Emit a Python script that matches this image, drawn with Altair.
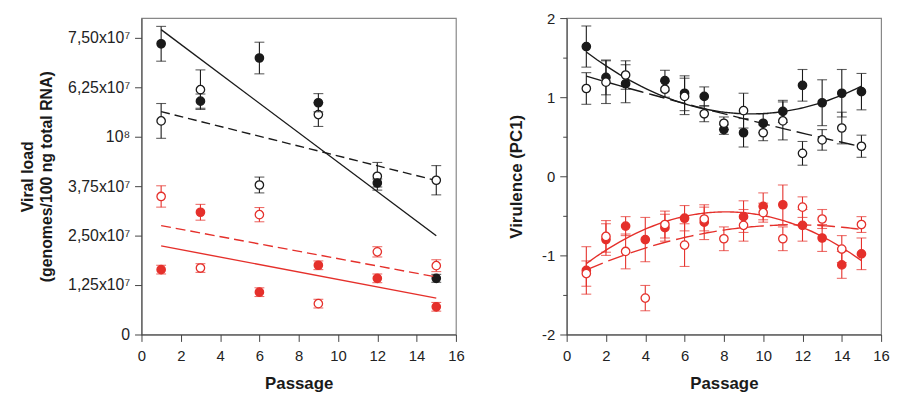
import altair as alt
import pandas as pd

# ---------------- Left panel: viral load (values in units of 10^7) ----------------
vl_passage = [1, 3, 6, 9, 12, 15]
vl_black_filled = [7.35, 5.90, 6.99, 5.86, 3.83, 1.42]
vl_black_filled_err = [0.44, 0.18, 0.40, 0.23, 0.10, 0.10]
vl_black_open = [5.40, 6.19, 3.78, 5.56, 4.00, 3.90]
vl_black_open_err = [0.44, 0.50, 0.20, 0.30, 0.35, 0.37]
vl_red_filled = [1.64, 3.09, 1.07, 1.75, 1.42, 0.70]
vl_red_filled_err = [0.11, 0.20, 0.11, 0.11, 0.11, 0.11]
vl_red_open = [3.49, 1.68, 3.03, 0.78, 2.09, 1.74]
vl_red_open_err = [0.27, 0.11, 0.18, 0.11, 0.13, 0.15]
vl_tick_values = [0, 1.25, 2.5, 3.75, 5.0, 6.25, 7.5]
vl_tick_labels = ["0", "1,25x10⁷", "2,50x10⁷", "3,75x10⁷", "10⁸", "6,25x10⁷", "7,50x10⁷"]

# ---------------- Right panel: virulence (PC1) ----------------
vir_black_filled_p = [1, 2, 3, 5, 6, 7, 8, 9, 10, 11, 12, 13, 14, 15]
vir_black_filled = [1.64, 1.25, 1.17, 1.21, 1.05, 1.01, 0.59, 0.55, 0.67, 0.82, 1.15, 0.93, 1.05, 1.07]
vir_black_filled_err = [0.26, 0.22, 0.24, 0.13, 0.22, 0.12, 0.06, 0.18, 0.12, 0.14, 0.20, 0.29, 0.30, 0.23]
vir_black_open_p = [1, 2, 3, 5, 6, 7, 8, 9, 10, 11, 12, 13, 14, 15]
vir_black_open = [1.11, 1.19, 1.28, 1.10, 1.01, 0.79, 0.67, 0.83, 0.55, 0.70, 0.29, 0.46, 0.61, 0.38]
vir_black_open_err = [0.20, 0.27, 0.18, 0.10, 0.23, 0.10, 0.08, 0.22, 0.10, 0.24, 0.15, 0.13, 0.20, 0.14]
vir_red_filled_p = [1, 2, 3, 4, 5, 6, 7, 9, 10, 11, 12, 13, 14, 15]
vir_red_filled = [-1.19, -0.80, -0.63, -0.80, -0.65, -0.53, -0.58, -0.51, -0.38, -0.36, -0.62, -0.78, -1.12, -0.98]
vir_red_filled_err = [0.30, 0.20, 0.12, 0.28, 0.17, 0.16, 0.22, 0.20, 0.17, 0.25, 0.20, 0.17, 0.17, 0.20]
vir_red_open_p = [1, 2, 3, 4, 5, 6, 7, 8, 9, 10, 11, 12, 13, 14, 15]
vir_red_open = [-1.23, -0.76, -0.95, -1.54, -0.61, -0.87, -0.54, -0.79, -0.62, -0.46, -0.79, -0.39, -0.54, -0.92, -0.61]
vir_red_open_err = [0.16, 0.20, 0.22, 0.16, 0.17, 0.27, 0.15, 0.15, 0.20, 0.12, 0.15, 0.13, 0.12, 0.17, 0.10]

BLACK = "#1a1a1a"
RED = "#e5302b"
FONT = "Liberation Sans"
AX = "#444444"


def frame(p, v, e):
    return pd.DataFrame({
        "passage": p,
        "value": v,
        "lo": [a - b for a, b in zip(v, e)],
        "hi": [a + b for a, b in zip(v, e)],
    })


def layers(df, color, filled, dash, x_enc, y_title, y_scale, y_axis, method, order=1):
    base = alt.Chart(df)
    ylo = alt.Y("lo:Q", scale=y_scale, axis=y_axis, title=y_title)
    yhi = alt.Y("hi:Q", scale=y_scale, axis=y_axis, title=y_title)
    yv = alt.Y("value:Q", scale=y_scale, axis=y_axis, title=y_title)
    rule = base.mark_rule(color=color, strokeWidth=1.1).encode(x=x_enc, y=ylo, y2="hi:Q")
    cap1 = base.mark_tick(color=color, orient="horizontal", size=10, thickness=1.1).encode(x=x_enc, y=ylo)
    cap2 = base.mark_tick(color=color, orient="horizontal", size=10, thickness=1.1).encode(x=x_enc, y=yhi)
    line_kw = dict(color=color, strokeWidth=1.4)
    if dash:
        line_kw["strokeDash"] = dash
    if method == "poly":
        reg = base.transform_regression("passage", "value", method="poly", order=order)
    else:
        reg = base.transform_regression("passage", "value", method="linear")
    line = reg.mark_line(**line_kw).encode(x=x_enc, y=yv)
    pts = base.mark_circle(size=72, opacity=1, fill=(color if filled else "white"),
                           stroke=color, strokeWidth=1.3).encode(x=x_enc, y=yv)
    return [rule, cap1, cap2, line, pts]


x_axis = alt.Axis(values=list(range(0, 17, 2)), tickSize=7, labelFlush=False, grid=False,
                  labelFontSize=15, labelPadding=7, titleFontSize=17, titleFontWeight="bold",
                  titlePadding=13, domainColor=AX, tickColor=AX, labelColor="#222")
x_enc = alt.X("passage:Q", scale=alt.Scale(domain=[0, 16], nice=False), axis=x_axis, title="Passage")

# Left panel
label_expr = "[" + ",".join("'" + s + "'" for s in vl_tick_labels) + "][round(datum.value / 1.25)]"
yl_axis = alt.Axis(values=vl_tick_values, labelExpr=label_expr, tickSize=7, grid=False,
                   labelFontSize=16, labelPadding=5, titleFontSize=16, titleFontWeight="bold",
                   titlePadding=13, titleLineHeight=19, domainColor=AX, tickColor=AX, labelColor="#222")
yl_scale = alt.Scale(domain=[0, 8.0], nice=False)
yl_title = ["Viral load", "(genomes/100 ng total RNA)"]

left_layers = []
left_layers += layers(frame(vl_passage, vl_black_open, vl_black_open_err), BLACK, False, [9, 5],
                      x_enc, yl_title, yl_scale, yl_axis, "linear")
left_layers += layers(frame(vl_passage, vl_black_filled, vl_black_filled_err), BLACK, True, None,
                      x_enc, yl_title, yl_scale, yl_axis, "linear")
left_layers += layers(frame(vl_passage, vl_red_open, vl_red_open_err), RED, False, [10, 5],
                      x_enc, yl_title, yl_scale, yl_axis, "linear")
left_layers += layers(frame(vl_passage, vl_red_filled, vl_red_filled_err), RED, True, None,
                      x_enc, yl_title, yl_scale, yl_axis, "linear")
left = alt.layer(*left_layers).properties(width=318, height=320)

# Right panel
yr_axis = alt.Axis(values=[-2, -1.5, -1, -0.5, 0, 0.5, 1, 1.5, 2],
                   labelExpr="datum.value % 1 == 0 ? (datum.value < 0 ? '-' + abs(datum.value) : '' + datum.value) : ''",
                   tickSize={"condition": {"test": "datum.value % 1 != 0", "value": 4}, "value": 7},
                   grid=False, labelFontSize=15, labelPadding=5, titleFontSize=17, titleFontWeight="bold",
                   titlePadding=16, domainColor=AX, tickColor=AX, labelColor="#222")
yr_scale = alt.Scale(domain=[-2, 2], nice=False)
yr_title = "Virulence (PC1)"

right_layers = []
right_layers += layers(frame(vir_black_filled_p, vir_black_filled, vir_black_filled_err), BLACK, True, None,
                       x_enc, yr_title, yr_scale, yr_axis, "poly", 2)
right_layers += layers(frame(vir_black_open_p, vir_black_open, vir_black_open_err), BLACK, False, [16, 6],
                       x_enc, yr_title, yr_scale, yr_axis, "poly", 2)
right_layers += layers(frame(vir_red_filled_p, vir_red_filled, vir_red_filled_err), RED, True, None,
                       x_enc, yr_title, yr_scale, yr_axis, "poly", 2)
right_layers += layers(frame(vir_red_open_p, vir_red_open, vir_red_open_err), RED, False, [18, 6],
                       x_enc, yr_title, yr_scale, yr_axis, "poly", 2)
right = alt.layer(*right_layers).properties(width=318, height=320)

chart = alt.hconcat(left, right, spacing=43).properties(
    padding={"left": 11, "top": 0, "right": 0, "bottom": 0}
).configure(font=FONT).configure_view(stroke="#888888", strokeWidth=1.2).configure_axis(
    labelFont=FONT, titleFont=FONT, titleColor="#1a1a1a")

chart.save("out.html", embed_options={"renderer": "svg", "actions": False})
